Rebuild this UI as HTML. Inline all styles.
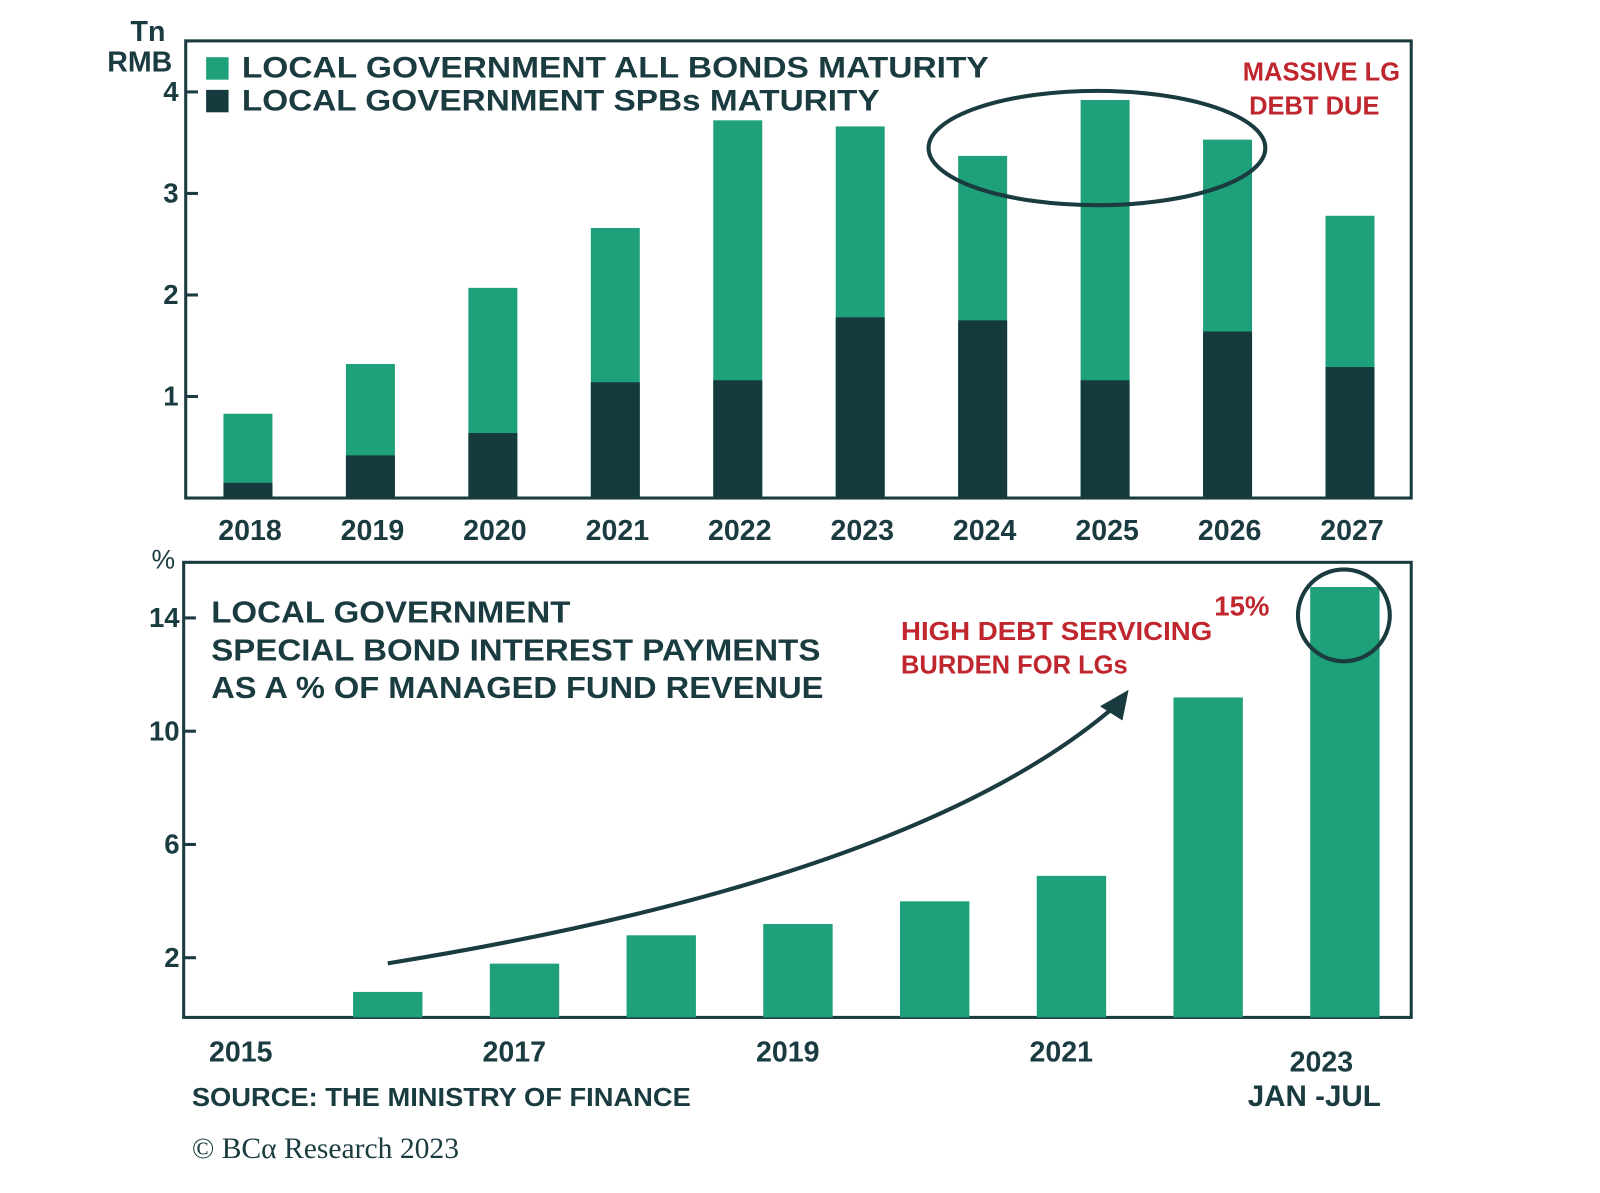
<!DOCTYPE html>
<html><head><meta charset="utf-8"><style>
html,body{margin:0;padding:0;background:#fff}
svg{display:block;font-family:"Liberation Sans",sans-serif}
</style></head><body>
<svg id="c" width="1600" height="1193" viewBox="0 0 1568 1169">
</svg>
<script>
const years1 = ["2018","2019","2020","2021","2022","2023","2024","2025","2026","2027"];
const allBonds = [0.83,1.32,2.07,2.66,3.72,3.66,3.37,3.92,3.53,2.78];
const spbBonds = [0.15,0.42,0.64,1.14,1.16,1.78,1.75,1.16,1.64,1.29];
const ticks1 = [1,2,3,4];
const years2 = ["2015","2016","2017","2018","2019","2020","2021","2022","2023"];
const interestPct = [0,0.9,1.9,2.9,3.3,4.1,5.0,11.3,15.2];
const ticks2 = [2,6,10,14];
const xLabels2 = ["2015","2017","2019","2021"];

const G="#1ea07a",D="#143a3e",T="#1a3b3f",R="#c0262d";
const svg=document.getElementById('c');
const NS="http://www.w3.org/2000/svg";
function mk(tag,attrs,txt){const e=document.createElementNS(NS,tag);for(const k in attrs)e.setAttribute(k,attrs[k]);if(txt!==undefined)e.textContent=txt;svg.appendChild(e);return e;}

const y1=v=>488-v*99.5;
const x1=i=>243+i*120;
const x2=i=>246+i*134;
const y2=v=>997-v*27.75;

let e;
e=mk('rect',{x:182,y:40,width:1201,height:448,fill:'none',stroke:T,'stroke-width':3});

allBonds.forEach((v,i)=>{
  e=mk('rect',{x:x1(i)-24,y:y1(v),width:48,height:y1(0)-y1(v),fill:G});
  
  e=mk('rect',{x:x1(i)-24,y:y1(spbBonds[i]),width:48,height:y1(0)-y1(spbBonds[i]),fill:D});
  
  e=mk('text',{x:x1(i)+2,y:529,'text-anchor':'middle','font-size':28,'font-weight':'bold',fill:T},years1[i]);
  
});
ticks1.forEach(t=>{
  e=mk('line',{x1:182,x2:194,y1:y1(t),y2:y1(t),stroke:T,'stroke-width':3});
  
  e=mk('text',{x:175,y:y1(t)+9,'text-anchor':'end','font-size':27,'font-weight':'bold',fill:T},String(t));
  
});
e=mk('text',{x:145,y:40,'text-anchor':'middle','font-size':28,'font-weight':'bold',fill:T},'Tn');

e=mk('text',{x:137,y:70,'text-anchor':'middle','font-size':28,'font-weight':'bold',fill:T},'RMB');

e=mk('rect',{x:202,y:56,width:22,height:22,fill:G});
e=mk('text',{x:237,y:76,'font-size':29,'font-weight':'bold',fill:T,textLength:732,lengthAdjust:'spacingAndGlyphs'},'LOCAL GOVERNMENT ALL BONDS MATURITY');
e=mk('rect',{x:202,y:88,width:22,height:22,fill:D});
e=mk('text',{x:237,y:108,'font-size':29,'font-weight':'bold',fill:T,textLength:625,lengthAdjust:'spacingAndGlyphs'},'LOCAL GOVERNMENT SPBs MATURITY');
e=mk('text',{x:1295,y:79,'text-anchor':'middle','font-size':25,'font-weight':'bold',fill:R},'MASSIVE LG');
e=mk('text',{x:1288,y:112,'text-anchor':'middle','font-size':25,'font-weight':'bold',fill:R},'DEBT DUE');
e=mk('ellipse',{cx:1075,cy:145,rx:165,ry:56,fill:'none',stroke:T,'stroke-width':4});

e=mk('rect',{x:180,y:551,width:1203,height:446,fill:'none',stroke:T,'stroke-width':3});

interestPct.forEach((v,i)=>{
  if(v<=0)return;
  e=mk('rect',{x:x2(i)-34,y:y2(v),width:68,height:y2(0)-y2(v),fill:G});
  
});
ticks2.forEach(t=>{
  e=mk('line',{x1:180,x2:192,y1:y2(t)-3,y2:y2(t)-3,stroke:T,'stroke-width':3});
  
  e=mk('text',{x:176,y:y2(t)+6,'text-anchor':'end','font-size':27,'font-weight':'bold',fill:T},String(t));
  
});
xLabels2.forEach((l,k)=>{
  const i=years2.indexOf(l);
  e=mk('text',{x:x2(i)-10,y:1040,'text-anchor':'middle','font-size':28,'font-weight':'bold',fill:T},l);
  
});
e=mk('text',{x:1295,y:1050,'text-anchor':'middle','font-size':28,'font-weight':'bold',fill:T},'2023');
e=mk('text',{x:1288,y:1084,'text-anchor':'middle','font-size':29,'font-weight':'bold',fill:T},'JAN -JUL');
e=mk('text',{x:160,y:557,'text-anchor':'middle','font-size':26,fill:T},'%');
['LOCAL GOVERNMENT','SPECIAL BOND INTEREST PAYMENTS','AS A % OF MANAGED FUND REVENUE'].forEach((s,k)=>{
  e=mk('text',{x:207,y:610+k*37,'font-size':30,'font-weight':'bold',fill:T,textLength:k==0?352:(k==1?597:600),lengthAdjust:'spacingAndGlyphs'},s);
  
});
e=mk('text',{x:883,y:627,'font-size':25,'font-weight':'bold',fill:R,textLength:305,lengthAdjust:'spacingAndGlyphs'},'HIGH DEBT SERVICING');
e=mk('text',{x:883,y:660,'font-size':25,'font-weight':'bold',fill:R},'BURDEN FOR LGs');
e=mk('text',{x:1190,y:603,'font-size':27,'font-weight':'bold',fill:R},'15%');
e=mk('circle',{cx:1317,cy:603,r:45,fill:'none',stroke:T,'stroke-width':4});
e=mk('path',{d:'M380 944 Q 900 860 1095 690',fill:'none',stroke:T,'stroke-width':4});
e=mk('path',{d:'M1106 676 L1100 706 L1078 692 Z',fill:T});

e=mk('text',{x:188,y:1084,'font-size':25,'font-weight':'bold',fill:T,textLength:489,lengthAdjust:'spacingAndGlyphs'},'SOURCE: THE MINISTRY OF FINANCE');
e=mk('text',{x:188,y:1135,'font-size':29,fill:T,'font-family':'Liberation Serif, serif'},'© BCα Research 2023');
</script>
</body></html>
